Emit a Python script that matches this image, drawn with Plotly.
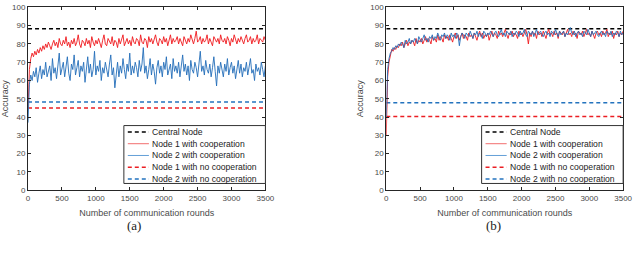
import plotly.graph_objects as go

# ---------------- data ----------------
rounds_step = 20  # one sample every 20 communication rounds
x_max = 3500

# (a) left panel
a_node1_coop = [45, 66, 72, 75, 73, 76, 74, 77, 75, 78, 76, 79, 77, 80, 78, 81, 79, 77, 80, 82,
 79, 81, 78, 83, 80, 79, 82, 80, 84, 79, 81, 78, 82, 80, 83, 79, 81, 85, 80, 78,
 82, 81, 79, 83, 80, 82, 78, 84, 81, 79, 82, 80, 83, 81, 78, 82, 85, 80, 79, 83,
 81, 80, 84, 79, 82, 81, 78, 83, 80, 82, 85, 79, 81, 83, 80, 82, 79, 84, 81, 80,
 83, 82, 79, 85, 81, 80, 83, 82, 78, 84, 81, 83, 80, 82, 85, 81, 79, 83, 82, 80,
 84, 81, 83, 79, 82, 85, 80, 83, 81, 82, 84, 80, 83, 81, 79, 84, 82, 80, 83, 81,
 85, 82, 80, 83, 87, 81, 82, 84, 80, 83, 81, 82, 85, 80, 83, 81, 79, 84, 82, 81,
 83, 80, 85, 82, 81, 83, 80, 84, 82, 79, 83, 81, 85, 82, 80, 83, 81, 84, 82, 80,
 83, 85, 81, 82, 84, 80, 83, 81, 82, 85, 80, 83, 82, 81, 84, 82]

a_node2_coop = [37, 58, 63, 60, 65, 62, 67, 59, 64, 68, 61, 66, 63, 70, 62, 65, 68, 60, 72, 64,
 67, 61, 69, 75, 63, 66, 70, 62, 68, 73, 64, 60, 69, 66, 74, 63, 67, 71, 62, 68,
 65, 70, 59, 67, 73, 64, 69, 62, 66, 76, 63, 68, 65, 71, 60, 67, 64, 70, 66, 62,
 69, 74, 63, 67, 56, 65, 70, 62, 68, 64, 72, 66, 61, 69, 65, 75, 63, 68, 64, 70,
 67, 62, 71, 65, 69, 78, 64, 68, 61, 66, 72, 63, 69, 65, 58, 67, 71, 64, 68, 62,
 70, 66, 73, 63, 67, 69, 61, 72, 65, 68, 64, 70, 62, 67, 74, 65, 69, 63, 68, 60,
 71, 66, 64, 70, 67, 62, 69, 76, 65, 68, 63, 71, 66, 64, 69, 62, 67, 73, 65, 57,
 68, 64, 70, 66, 62, 69, 65, 72, 63, 67, 70, 64, 68, 61, 66, 71, 64, 69, 62, 67,
 65, 70, 63, 68, 72, 64, 66, 60, 69, 65, 67, 63, 70, 66, 62, 68]

a_central = 88.3
a_node1_nocoop = 45.0
a_node2_nocoop = 48.2

# (b) right panel
b_node1_coop = [30, 62, 70, 74, 77, 76, 78, 77, 79, 78, 80, 79, 81, 78, 80, 82, 79, 81, 80, 82,
 81, 79, 83, 80, 82, 81, 83, 80, 82, 84, 81, 83, 82, 80, 84, 82, 83, 81, 85, 82,
 84, 83, 81, 85, 83, 84, 82, 85, 83, 81, 84, 86, 83, 85, 82, 84, 86, 83, 85, 84,
 82, 86, 84, 85, 83, 86, 84, 82, 85, 87, 84, 86, 83, 85, 84, 86, 82, 85, 87, 84,
 86, 85, 83, 87, 85, 86, 84, 86, 88, 85, 83, 86, 85, 87, 84, 86, 85, 83, 87, 85,
 86, 84, 86, 88, 85, 80, 86, 84, 87, 85, 86, 83, 87, 85, 86, 84, 87, 85, 83, 86,
 88, 85, 86, 84, 87, 85, 86, 83, 87, 86, 85, 87, 84, 86, 88, 85, 86, 84, 87, 85,
 86, 83, 87, 86, 85, 87, 84, 86, 88, 85, 86, 84, 87, 85, 83, 86, 87, 85, 86, 84,
 87, 85, 86, 88, 84, 86, 85, 87, 83, 86, 85, 87, 84, 86, 85, 87]

b_node2_coop = [40, 66, 72, 75, 76, 78, 77, 79, 78, 80, 79, 81, 80, 78, 82, 80, 81, 83, 80, 82,
 81, 83, 82, 80, 84, 82, 81, 83, 85, 82, 83, 81, 84, 83, 85, 82, 84, 83, 86, 84,
 82, 85, 84, 86, 83, 85, 84, 82, 86, 84, 85, 83, 86, 85, 79, 84, 86, 85, 83, 86,
 85, 84, 87, 85, 83, 86, 85, 87, 84, 86, 85, 83, 87, 86, 84, 86, 85, 87, 85, 84,
 86, 87, 85, 84, 86, 88, 85, 86, 84, 87, 86, 85, 87, 84, 86, 85, 87, 86, 84, 87,
 85, 86, 88, 85, 84, 87, 86, 85, 87, 84, 86, 88, 85, 86, 87, 85, 84, 86, 87, 85,
 86, 84, 87, 86, 85, 88, 86, 84, 87, 85, 86, 87, 84, 86, 85, 87, 89, 86, 85, 87,
 84, 86, 87, 85, 86, 84, 87, 86, 85, 88, 86, 84, 87, 85, 86, 87, 85, 84, 86, 87,
 85, 86, 84, 87, 86, 85, 87, 84, 86, 85, 87, 86, 84, 87, 85, 86]

b_central = 88.3
b_node1_nocoop = 40.3
b_node2_nocoop = 47.8

x_ticks = [0, 500, 1000, 1500, 2000, 2500, 3000, 3500]
y_ticks = [0, 10, 20, 30, 40, 50, 60, 70, 80, 90, 100]
names = ["Central Node", "Node 1 with cooperation", "Node 2 with cooperation",
         "Node 1 with no cooperation", "Node 2 with no cooperation"]
panel_labels = ["(a)", "(b)"]

# ---------------- styling ----------------
RED = "rgb(235,30,35)"
BLUE = "rgb(35,115,190)"
RED_LINE = "rgba(240,25,30,0.9)"
BLUE_LINE = "rgba(35,110,185,0.9)"
RED_LEG = "rgb(242,110,110)"
BLUE_LEG = "rgb(100,160,215)"
DASH = "4px,3px"
FONT = "Liberation Sans, Arial, sans-serif"
TXT = "#4a4a4a"

styles = [
    dict(color="black", width=1.5, dash=DASH),
    dict(color=RED_LINE, width=1.0),
    dict(color=BLUE_LINE, width=1.0),
    dict(color=RED, width=1.5, dash=DASH),
    dict(color=BLUE, width=1.5, dash=DASH),
]
legend_styles = [
    dict(color="black", width=1.5, dash=DASH),
    dict(color=RED_LEG, width=1),
    dict(color=BLUE_LEG, width=1),
    dict(color=RED, width=1.5, dash=DASH),
    dict(color=BLUE, width=1.5, dash=DASH),
]

fig = go.Figure()

panels = [
    ("x", "y", a_central, a_node1_coop, a_node2_coop, a_node1_nocoop, a_node2_nocoop),
    ("x2", "y2", b_central, b_node1_coop, b_node2_coop, b_node1_nocoop, b_node2_nocoop),
]

for xa, ya, central, n1, n2, n1nc, n2nc in panels:
    xs1 = [i * rounds_step for i in range(len(n1))]
    xs2 = [i * rounds_step for i in range(len(n2))]
    flat_x = [0, x_max]
    series = [
        (flat_x, [central, central]),
        (xs1, n1),
        (xs2, n2),
        (flat_x, [n1nc, n1nc]),
        (flat_x, [n2nc, n2nc]),
    ]
    for k in [3, 4, 0, 1, 2]:
        xs, ys = series[k]
        fig.add_trace(go.Scatter(x=xs, y=ys, mode="lines", name=names[k],
                                 line=styles[k], xaxis=xa, yaxis=ya, showlegend=False))

W, H = 640, 256
def px_x(p):
    return p / W
def px_y(p):
    return 1 - p / H

axis_common = dict(showline=True, linecolor="#262626", linewidth=1, mirror="ticks",
                   ticks="inside", ticklen=3, tickcolor="#262626", showgrid=False,
                   zeroline=False, ticklabeloverflow="allow",
                   tickfont=dict(family=FONT, size=8, color=TXT))

xdoms = [[px_x(26.5), px_x(268)], [px_x(391), px_x(632)]]
ydom = [px_y(193), px_y(3.5)]

layout = dict(
    width=W, height=H, margin=dict(l=0, r=0, t=0, b=0),
    paper_bgcolor="white", plot_bgcolor="white",
    font=dict(family=FONT, color=TXT), showlegend=False,
)
for i, (xa, ya) in enumerate([("xaxis", "yaxis"), ("xaxis2", "yaxis2")]):
    layout[xa] = dict(axis_common, domain=xdoms[i], range=[0, x_max], tickvals=x_ticks,
                      anchor="y" if i == 0 else "y2",
                      title=dict(text="Number of communication rounds", standoff=7,
                                 font=dict(family=FONT, size=9, color=TXT)))
    layout[ya] = dict(axis_common, domain=ydom, range=[0, 100], tickvals=y_ticks,
                      anchor="x" if i == 0 else "x2",
                      title=dict(text="Accuracy", standoff=5,
                                 font=dict(family=FONT, size=9, color=TXT)))
fig.update_layout(**layout)

# ---------------- hand-built legends (compact, like the reference) ----------------
shapes = []
annotations = []
label_centres = [134.5, 500]
for i in range(2):
    right_px = xdoms[i][1] * W
    box_l = right_px - 144
    box_t, box_b = 126, 186
    shapes.append(dict(type="rect", xref="paper", yref="paper",
                       x0=px_x(box_l), x1=px_x(right_px), y0=px_y(box_b), y1=px_y(box_t),
                       line=dict(color="#333333", width=1), fillcolor="white", layer="above"))
    for k, nm in enumerate(names):
        row_y = 132.6 + k * 12.2
        shapes.append(dict(type="line", xref="paper", yref="paper",
                           x0=px_x(box_l + 4), x1=px_x(box_l + 25.5),
                           y0=px_y(row_y), y1=px_y(row_y),
                           line=legend_styles[k], layer="above"))
        annotations.append(dict(text=nm, xref="paper", yref="paper",
                                x=px_x(box_l + 26.5), y=px_y(row_y), xanchor="left",
                                yanchor="middle", showarrow=False,
                                font=dict(family=FONT, size=8.6, color="#222222")))
    annotations.append(dict(text=panel_labels[i], xref="paper", yref="paper",
                            x=px_x(label_centres[i]), y=px_y(230),
                            showarrow=False, xanchor="center", yanchor="middle",
                            font=dict(family="Liberation Serif, Times New Roman, serif",
                                      size=13, color="#222222")))

fig.update_layout(shapes=shapes, annotations=annotations)

fig.write_html("out.html", config={"displayModeBar": False},
               post_script="document.body.style.margin='0';document.body.style.padding='0';")
